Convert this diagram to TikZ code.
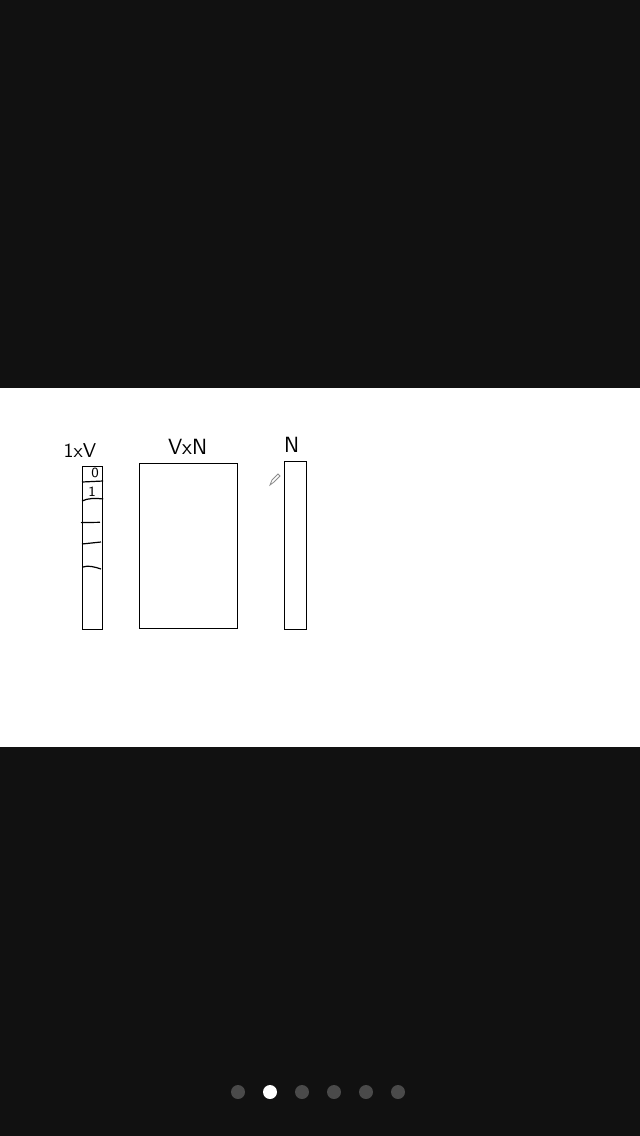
\documentclass[tikz,border=0pt]{standalone}
\usetikzlibrary{positioning}
\definecolor{bgD}{RGB}{17,17,17}
\definecolor{dotG}{RGB}{74,74,74}
\definecolor{penG}{RGB}{140,140,140}

\begin{document}
\begin{tikzpicture}[x=0.5pt,y=-0.5pt,
  box/.style={draw,line width=0.6pt,inner sep=0pt,anchor=north west},
  lbl/.style={font=\sffamily\fontsize{11}{13}\selectfont,inner sep=1pt},
  cell/.style={font=\sffamily\fontsize{7}{8}\selectfont,inner sep=0pt},
  pagedot/.style={fill=dotG}]
\useasboundingbox (0,0) rectangle (640,1136);
\fill[bgD] (0,0) rectangle (640,1136);
\fill[white] (0,388) rectangle (640,747);
% the three matrices
\node[box,minimum width=10pt,minimum height=81.5pt] (onehot) at (82,466) {};
\node[box,minimum width=49pt,minimum height=82.5pt] (weights) at (139,463) {};
\node[box,minimum width=11pt,minimum height=84pt] (hidden) at (284,461) {};
% labels
\node[lbl,font=\sffamily\fontsize{10}{12}\selectfont] (lblOne) at (80,451) {1xV};
\node[lbl,above=3pt of weights,xshift=-0.5pt] (lblW) {VxN};
\node[lbl,above=3pt of hidden,xshift=-2pt] (lblH) {N};
% rows of the one-hot vector
\draw[line width=0.6pt] (onehot.west |- 0,482) -- (onehot.east |- 0,481);
\draw[line width=0.6pt] (onehot.west |- 0,501) .. controls (88,498) and (96,498) .. (onehot.east |- 0,499);
\draw[line width=0.6pt] (81,522.6) -- (100,522.3);
\draw[line width=0.6pt] (onehot.west |- 0,544) -- (101,542);
\draw[line width=0.6pt] (83,567) .. controls (88,565) and (95,567) .. (101,569);
\node[cell] (cZero) at (95,473) {0};
\node[cell] (cOne) at (92,492) {1};
% pen cursor
\draw[penG,line width=0.4pt] (270,485) -- (272,480) -- (278,474) -- (280,476) -- (274,482) -- cycle;
% page dots
\foreach \px in {238,302,334,366,398}
  \fill[pagedot] (\px,1092) circle (7);
\fill[white] (270,1092) circle (7);
\end{tikzpicture}
\end{document}
